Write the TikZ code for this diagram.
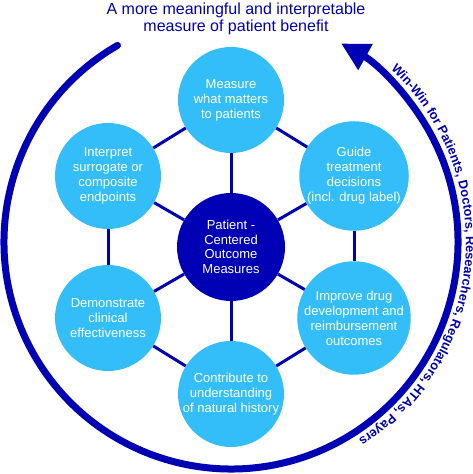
\documentclass[tikz,border=0pt]{standalone}
\usepackage{fontspec}
\setmainfont{Liberation Sans}
\usetikzlibrary{positioning,arrows.meta,decorations.text}
\definecolor{dblue}{RGB}{0,0,180}
\definecolor{lblue}{RGB}{51,190,250}

\begin{document}
\begin{tikzpicture}[x=1pt, y=1pt, on grid, node distance={147pt}, main/.style = {circle, fill=lblue, text=white, minimum size=106pt, inner sep=0pt, align=center, font=\fontsize{13}{15}\selectfont}, link/.style = {draw=dblue, line width=3pt}]
            \useasboundingbox (0,0) rectangle (473,474);
            \coordinate (o) at (231,232);

            \node[main, fill=dblue, minimum size=108pt, font=\fontsize{13}{14.5}\selectfont] (0) at (231,227) {Patient -\\Centered\\Outcome\\Measures};
            \node[main] (1) [above=of 0] {Measure\\what matters\\to patients};
            \node[main] (2) [above right=71pt and 123pt of 0] {Guide\\treatment\\decisions\\(incl. drug label)};
            \node[main] (3) [below right=71pt and 123pt of 0] {Improve drug\\development and\\reimbursement\\outcomes};
            \node[main] (4) [below=of 0] {Contribute to\\understanding\\of natural history};
            \node[main] (5) [below left=71pt and 123pt of 0] {Demonstrate\\clinical\\effectiveness};
            \node[main] (6) [above left=71pt and 123pt of 0] {Interpret\\surrogate or\\composite\\endpoints};

            \node[text=dblue, align=center, font=\fontsize{16}{17}\selectfont] (title) at (236,455) {A more meaningful and interpretable\\measure of patient benefit};

            \draw[link] (0) -- (1);
            \draw[link] (0) -- (2);
            \draw[link] (0) -- (3);
            \draw[link] (0) -- (4);
            \draw[link] (0) -- (5);
            \draw[link] (0) -- (6);

            \draw[link] (1) -- (2);
            \draw[link] (2) -- (3);
            \draw[link] (3) -- (4);
            \draw[link] (4) -- (5);
            \draw[link] (5) -- (6);
            \draw[link] (6) -- (1);

            \draw[dblue, line width=7pt, line cap=round, -{Triangle[length=28pt, width=28pt]}] ([shift={(120:227)}]o) arc[start angle=120, end angle=421, radius=227];
            \path[shift={(231,232)}, decorate, decoration={text along path, text align=center, text={|\bfseries\fontsize{12.8}{13}\selectfont\color{dblue}|Win-Win for Patients, Doctors, Researchers, Regulators, HTAs, Payers}}] (53:235) arc[start angle=53, end angle=-63, radius=235];
        \end{tikzpicture}
\end{document}
